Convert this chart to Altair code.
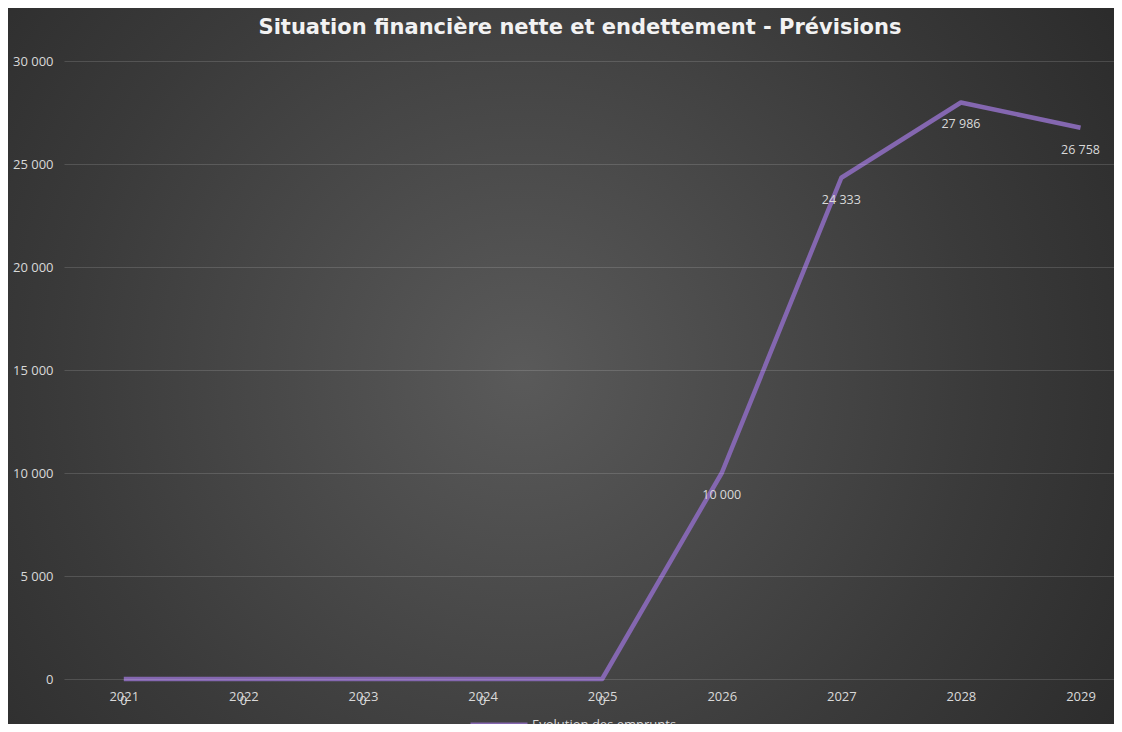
import altair as alt
import pandas as pd

years = [2021, 2022, 2023, 2024, 2025, 2026, 2027, 2028, 2029]
emprunts = [0, 0, 0, 0, 0, 10000, 24333, 27986, 26758]
serie = "Evolution des emprunts"
y_ticks = [0, 5000, 10000, 15000, 20000, 25000, 30000]
title_text = "Situation financière nette et endettement - Prévisions"

df = pd.DataFrame({"annee": years, "valeur": emprunts, "serie": [serie] * len(years)})

W, H = 1050, 618
LABEL = "#d9d9d9"
PURPLE = "#8467b0"

bg = alt.Chart(pd.DataFrame({"k": [0]})).mark_rect(
    fill=alt.Gradient(
        gradient="radial",
        stops=[alt.GradientStop(color="#5a5a5a", offset=0),
               alt.GradientStop(color="#3a3a3a", offset=0.55),
               alt.GradientStop(color="#232323", offset=1)],
        x1=0.46, y1=0.5, r1=0, x2=0.46, y2=0.5, r2=0.75,
    )
).encode(x=alt.value(-56), x2=alt.value(W + 10), y=alt.value(-53), y2=alt.value(H + 60))

x_enc = alt.X("annee:Q", scale=alt.Scale(domain=[2020.5, 2029.28], nice=False, zero=False),
              axis=alt.Axis(values=years, format="d", title=None, grid=False, domain=False,
                            ticks=False, labelColor=LABEL, labelFontSize=13, labelPadding=11,
                            labelFont="Open Sans", zindex=2))
y_enc = alt.Y("valeur:Q", scale=alt.Scale(domain=[0, 30000], nice=False),
              axis=alt.Axis(values=y_ticks, title=None, domain=False, ticks=False,
                            labelColor=LABEL, labelFontSize=13, labelPadding=11,
                            labelFont="Open Sans",
                            labelExpr="replace(format(datum.value, ','), ',', ' ')",
                            gridColor="#ffffff", gridOpacity=0.14, gridWidth=1, zindex=1))

line = alt.Chart(df).mark_line(strokeWidth=4.5, strokeJoin="round").encode(
    x=x_enc, y=y_enc,
    color=alt.Color("serie:N", scale=alt.Scale(range=[PURPLE]),
                    legend=alt.Legend(title=None, orient="none", legendX=404, legendY=633,
                                      symbolType="stroke", symbolSize=3249,
                                      symbolStrokeWidth=5, labelColor=LABEL,
                                      labelFontSize=13, labelFont="Open Sans",
                                      labelOffset=2, zindex=3)),
)

labels = alt.Chart(df).transform_calculate(
    lbl="replace(format(datum.valeur, ','), ',', ' ')"
).mark_text(dy=22, fontSize=12.5, color=LABEL, font="Open Sans").encode(
    x="annee:Q", y="valeur:Q", text="lbl:N"
)

chart = alt.layer(bg, line, labels).properties(
    width=W, height=H,
    padding={"left": 56, "top": 53, "right": 0, "bottom": 45},
    autosize=alt.AutoSizeParams(type="none"),
    background="#262626",
    title=alt.Title(title_text, color="#f2f2f2", fontSize=21, font="DejaVu Sans",
                    fontWeight="bold", anchor="middle", offset=14, dx=-9, dy=44, zindex=3),
).configure_view(strokeWidth=0)

chart.save("out.html", embed_options={"renderer": "svg", "actions": False})
